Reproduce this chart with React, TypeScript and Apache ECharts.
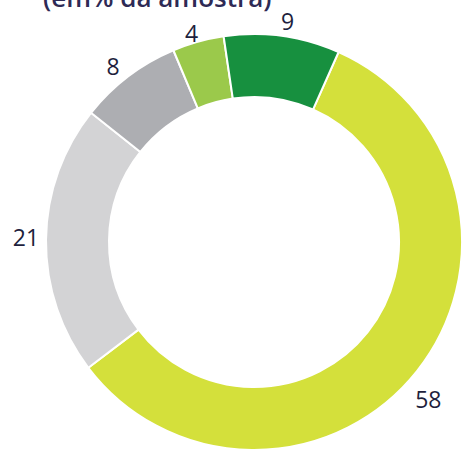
import React, { useEffect, useRef } from "react";
import * as echarts from "echarts";

const categories = ["A", "B", "C", "D", "E"];
const values = [58, 21, 8, 4, 9];
const colors = ["#d4e03b", "#d3d3d5", "#adaeb2", "#9bc94b", "#17903f"];
const titleText = "(em% da amostra)";
// small per-label nudges (px) away from the ring's label track
const labelNudge = [
  [-2, 17],
  [-3, -3],
  [-5, 3],
  [-2, 8],
  [3, 2],
];

export default function App() {
  const ref = useRef<HTMLDivElement>(null);
  useEffect(() => {
    document.body.style.margin = "0";
    const chart = echarts.init(ref.current!, null, { renderer: "svg" });
    const data = categories.map((c, i) => ({
      name: c,
      value: values[i],
      itemStyle: { color: colors[i] },
    }));
    chart.setOption({
      animation: false,
      graphic: [
        {
          type: "text",
          left: 43,
          top: -16,
          style: {
            text: titleText,
            fontFamily: "Open Sans",
            fontSize: 26,
            fontWeight: 600,
            fill: "#2e2a55",
          },
        },
      ],
      series: [
        {
          type: "pie",
          center: [254, 242],
          radius: [145, 208],
          startAngle: 66,
          clockwise: true,
          silent: true,
          itemStyle: { borderColor: "#ffffff", borderWidth: 2 },
          label: { show: false },
          labelLine: { show: false },
          data,
        },
        {
          type: "pie",
          center: [254, 242],
          radius: [208, 236],
          startAngle: 66,
          clockwise: true,
          silent: true,
          avoidLabelOverlap: false,
          itemStyle: { color: "transparent" },
          label: {
            show: true,
            position: "inside",
            formatter: "{c}",
            fontFamily: "Open Sans",
            fontSize: 23,
            color: "#1e1f3d",
          },
          labelLine: { show: false },
          labelLayout: (p: any) => ({
            dx: labelNudge[p.dataIndex][0],
            dy: labelNudge[p.dataIndex][1],
          }),
          data: categories.map((c, i) => ({ name: c, value: values[i] })),
        },
      ],
    });
    return () => chart.dispose();
  }, []);
  return <div ref={ref} style={{ width: 464, height: 452 }} />;
}
